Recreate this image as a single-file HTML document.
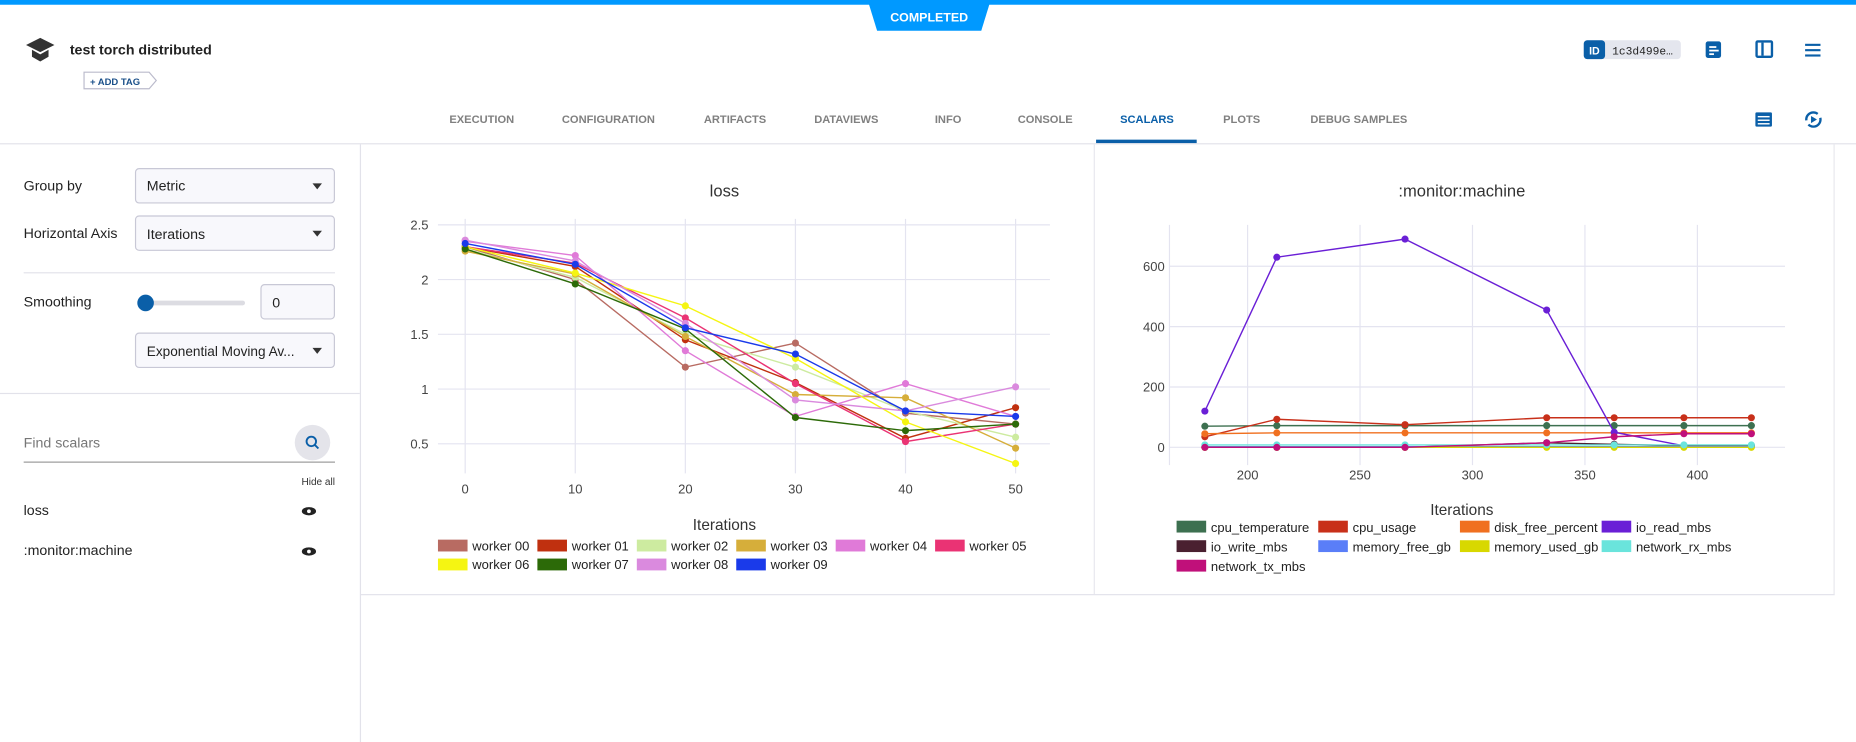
<!DOCTYPE html>
<html><head><meta charset="utf-8"><style>
html,body{margin:0;padding:0;background:#fff;overflow:hidden}
svg{display:block;font-family:"Liberation Sans",sans-serif}
</style></head><body>
<svg id="s" width="1856" height="742" viewBox="0 0 1568 627" preserveAspectRatio="none" xmlns="http://www.w3.org/2000/svg">
<rect width="1568" height="627" fill="#fff"/>
<rect x="0" y="0" width="1568" height="4" fill="#0099ff"/>
<polygon points="733,0 837,0 829,26 741,26" fill="#0099ff"/>
<text x="785" y="18" font-size="10.5" font-weight="bold" fill="#fff" text-anchor="middle">COMPLETED</text>
<polygon points="34,32 46,38 34,44 22,38" fill="#333"/>
<path d="M27,42 v6 l7,4 7,-4 v-6 l-7,4z" fill="#333"/>
<text x="59" y="46" font-size="12" font-weight="bold" fill="#222">test torch distributed</text>
<path d="M71,61 h55 l6,7 -6,7 h-55z" fill="#fff" stroke="#bbc" stroke-width="1"/>
<text x="76" y="72" font-size="8" font-weight="bold" fill="#1a4f8a">+ ADD TAG</text>
<rect x="1338" y="34" width="82" height="16" rx="3" fill="#e4e6ee"/>
<rect x="1338" y="34" width="18" height="16" rx="3" fill="#0a5fa8"/>
<text x="1347" y="46" font-size="9" font-weight="bold" fill="#fff" text-anchor="middle">ID</text>
<text x="1362" y="46" font-size="9.5" fill="#222" font-family="Liberation Mono,monospace">1c3d499e…</text>
<rect x="1441" y="35" width="13" height="14" rx="2" fill="#0a5fa8"/>
<rect x="1444" y="39" width="6" height="1.5" fill="#fff"/><rect x="1444" y="42" width="8" height="1.5" fill="#fff"/><rect x="1444" y="45" width="4" height="1.5" fill="#fff"/>
<rect x="1484" y="35" width="13" height="13" rx="1" fill="none" stroke="#0a5fa8" stroke-width="2"/>
<rect x="1488" y="36" width="2" height="11" fill="#0a5fa8"/>
<rect x="1525" y="37" width="13" height="1.8" fill="#0a5fa8"/><rect x="1525" y="41.5" width="13" height="1.8" fill="#0a5fa8"/><rect x="1525" y="46" width="13" height="1.8" fill="#0a5fa8"/>
<g font-size="9.4" fill="#808080" text-anchor="middle" font-weight="bold">
<text x="407" y="104">EXECUTION</text><text x="514" y="104">CONFIGURATION</text><text x="621" y="104">ARTIFACTS</text>
<text x="715" y="104">DATAVIEWS</text><text x="801" y="104">INFO</text><text x="883" y="104">CONSOLE</text>
<text x="969" y="104" fill="#0a5fa8">SCALARS</text><text x="1049" y="104">PLOTS</text><text x="1148" y="104">DEBUG SAMPLES</text>
</g>
<rect x="926" y="118" width="85" height="3" fill="#0a5fa8"/>
<rect x="1483" y="95" width="14" height="12" rx="1" fill="#0a5fa8"/>
<rect x="1485" y="98" width="10" height="1.2" fill="#fff"/><rect x="1485" y="101" width="10" height="1.2" fill="#fff"/><rect x="1485" y="104" width="10" height="1.2" fill="#fff"/>
<circle cx="1532" cy="101" r="6" fill="none" stroke="#0a5fa8" stroke-width="2" stroke-dasharray="14 4"/>
<polygon points="1530,98 1535,101 1530,104" fill="#0a5fa8"/>
<rect x="0" y="121" width="1568" height="1" fill="#e2e2ea"/>
<rect x="304" y="122" width="1" height="505" fill="#e2e2ea"/>
<g font-size="12" fill="#222">
<text x="20" y="161">Group by</text>
<text x="20" y="201">Horizontal Axis</text>
<text x="20" y="259">Smoothing</text>
</g>
<rect x="114.5" y="142.5" width="168" height="29" rx="3" fill="#f8f8fc" stroke="#c8c8d6"/>
<text x="124" y="161" font-size="12" fill="#222">Metric</text><polygon points="264,155 272,155 268,160" fill="#333"/>
<rect x="114.5" y="182.5" width="168" height="29" rx="3" fill="#f8f8fc" stroke="#c8c8d6"/>
<text x="124" y="202" font-size="12" fill="#222">Iterations</text><polygon points="264,195 272,195 268,200" fill="#333"/>
<rect x="20" y="230" width="263" height="1" fill="#e2e2ea"/>
<rect x="123" y="254" width="84" height="4" rx="2" fill="#dcdce2"/>
<circle cx="123" cy="256" r="7" fill="#0a5fa8"/>
<rect x="220.5" y="240.5" width="62" height="29" rx="3" fill="#f8f8fc" stroke="#c8c8d6"/>
<text x="230" y="260" font-size="12" fill="#222">0</text>
<rect x="114.5" y="281.5" width="168" height="29" rx="3" fill="#f8f8fc" stroke="#c8c8d6"/>
<text x="124" y="301" font-size="11.5" fill="#222">Exponential Moving Av...</text><polygon points="264,294 272,294 268,299" fill="#333"/>
<rect x="0" y="332" width="304" height="1" fill="#e2e2ea"/>
<text x="20" y="378" font-size="12" fill="#777">Find scalars</text>
<rect x="20" y="390" width="263" height="1" fill="#999"/>
<circle cx="264" cy="374" r="15" fill="#e4e4ea"/>
<circle cx="263" cy="373" r="4" fill="none" stroke="#0a5fa8" stroke-width="1.6"/><line x1="266" y1="376" x2="269" y2="379" stroke="#0a5fa8" stroke-width="1.6"/>
<text x="283" y="410" font-size="8.5" fill="#333" text-anchor="end">Hide all</text>
<text x="20" y="435" font-size="12" fill="#222">loss</text>
<text x="20" y="469" font-size="12" fill="#222">:monitor:machine</text>
<g fill="#222"><ellipse cx="261" cy="432" rx="6" ry="3.5"/><ellipse cx="261" cy="466" rx="6" ry="3.5"/></g>
<g fill="#fff"><circle cx="261" cy="432" r="1.6"/><circle cx="261" cy="466" r="1.6"/></g>
<rect x="924" y="122" width="1" height="380" fill="#e8e8ee"/>
<rect x="1549" y="122" width="1" height="380" fill="#e8e8ee"/>
<rect x="305" y="502" width="1245" height="1" fill="#e2e2ea"/>
<text x="612" y="166" font-size="14" fill="#333" text-anchor="middle">loss</text>
<text x="1235" y="166" font-size="14" fill="#333" text-anchor="middle">:monitor:machine</text>
<g id="g1"></g><g id="g2"></g>
<text x="612" y="448" font-size="13" fill="#333" text-anchor="middle">Iterations</text>
<text x="1235" y="435" font-size="13" fill="#333" text-anchor="middle">Iterations</text>
</svg>
<script>
var NS="http://www.w3.org/2000/svg";
function el(p,t,a,txt){var e=document.createElementNS(NS,t);for(var k in a)e.setAttribute(k,a[k]);if(txt!=null)e.textContent=txt;p.appendChild(e);return e;}
var g1=document.getElementById('g1'),g2=document.getElementById('g2');
for(var i=0;i<=5;i++){var x=393+93*i;el(g1,'line',{x1:x,y1:185,x2:x,y2:400,stroke:'#e4e4f0'});el(g1,'text',{x:x,y:417,'font-size':11,fill:'#444','text-anchor':'middle'},String(i*10));}
var yl=['2.5','2','1.5','1','0.5'];
for(var j=0;j<5;j++){var y=190+46.25*j;el(g1,'line',{x1:370,y1:y,x2:887,y2:y,stroke:'#e4e4f0'});el(g1,'text',{x:362,y:y+4,'font-size':11,fill:'#444','text-anchor':'end'},yl[j]);}
var L=[['worker 00','#b86b62',[2.30,2.00,1.20,1.42,0.78,0.68]],
['worker 01','#c0300f',[2.30,2.12,1.45,1.06,0.55,0.83]],
['worker 02','#cdeba0',[2.28,2.02,1.50,1.20,0.80,0.56]],
['worker 03','#d6ae3a',[2.26,2.05,1.48,0.95,0.92,0.46]],
['worker 04','#e07ad8',[2.35,2.22,1.35,0.75,1.05,0.75]],
['worker 05','#ea3374',[2.30,2.15,1.65,1.05,0.52,0.68]],
['worker 06','#f5f512',[2.30,2.06,1.76,1.28,0.70,0.32]],
['worker 07','#2c6a08',[2.28,1.96,1.55,0.74,0.62,0.68]],
['worker 08','#da8ade',[2.36,2.17,1.60,0.90,0.80,1.02]],
['worker 09','#1a3aea',[2.33,2.14,1.56,1.32,0.80,0.75]]];
L.forEach(function(s,k){var pts=s[2].map(function(v,i){return (393+93*i)+','+(190+(2.5-v)*92.5);});
el(g1,'polyline',{points:pts.join(' '),fill:'none',stroke:s[1],'stroke-width':1.2});
pts.forEach(function(p){var q=p.split(',');el(g1,'circle',{cx:q[0],cy:q[1],r:3,fill:s[1]});});
var r=Math.floor(k/6),c=k%6,lx=370+84*c,ly=456+16*r;
el(g1,'rect',{x:lx,y:ly,width:25,height:10,fill:s[1]});
el(g1,'text',{x:lx+29,y:ly+9,'font-size':11,fill:'#222'},s[0]);});
function mx(t){return 1054+(t-200)*1.9;}function my(v){return 378-v*0.255;}
el(g2,'line',{x1:988,y1:190,x2:988,y2:393,stroke:'#e4e4f0'});
for(var t=200;t<=400;t+=50){el(g2,'line',{x1:mx(t),y1:190,x2:mx(t),y2:393,stroke:'#e4e4f0'});el(g2,'text',{x:mx(t),y:405,'font-size':11,fill:'#444','text-anchor':'middle'},String(t));}
for(var v=0;v<=600;v+=200){el(g2,'line',{x1:988,y1:my(v),x2:1508,y2:my(v),stroke:'#e4e4f0'});el(g2,'text',{x:984,y:my(v)+4,'font-size':11,fill:'#444','text-anchor':'end'},String(v));}
var T=[181,213,270,333,363,394,424];
var M=[['cpu_temperature','#3d7050',[70,72,72,72,72,72,72]],
['cpu_usage','#c8301a',[35,93,75,98,98,98,98]],
['disk_free_percent','#f07020',[45,48,48,48,48,48,48]],
['io_read_mbs','#6a1fd6',[120,630,690,455,50,5,5]],
['io_write_mbs','#4a2030',[0,0,0,15,10,5,5]],
['memory_free_gb','#5a7ef8',[2,2,2,2,2,2,2]],
['memory_used_gb','#d8d800',[0,0,0,0,0,0,0]],
['network_rx_mbs','#6ae4dc',[8,8,8,8,8,8,8]],
['network_tx_mbs','#c0107a',[0,0,0,15,35,45,45]]];
M.forEach(function(s,k){var pts=s[2].map(function(v,i){return mx(T[i])+','+my(v);});
el(g2,'polyline',{points:pts.join(' '),fill:'none',stroke:s[1],'stroke-width':1.2});
pts.forEach(function(p){var q=p.split(',');el(g2,'circle',{cx:q[0],cy:q[1],r:3,fill:s[1]});});
var r=Math.floor(k/4),c=k%4,lx=994+119.7*c,ly=440+16.5*r;
el(g2,'rect',{x:lx,y:ly,width:25,height:10,fill:s[1]});
el(g2,'text',{x:lx+29,y:ly+9.5,'font-size':11,fill:'#222'},s[0]);});
</script>
</body></html>
